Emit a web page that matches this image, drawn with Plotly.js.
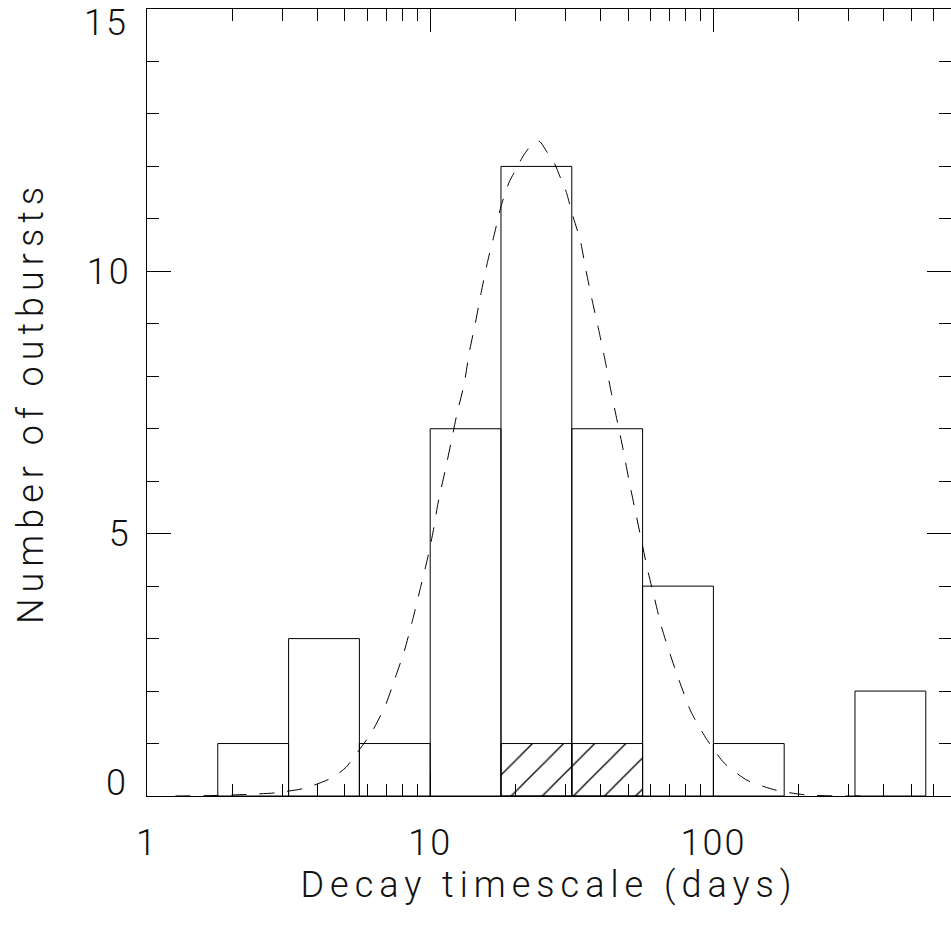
<!DOCTYPE html>
<html>
<head>
<meta charset="utf-8">
<script src="https://cdn.plot.ly/plotly-3.0.1.min.js"></script>
<style>
html, body { margin: 0; padding: 0; background: #fff; overflow: hidden; }
#chart { width: 951px; height: 926px; }
.xtitle, .ytitle { letter-spacing: 6px; }
.xtick text, .ytick text, .annotation-text { letter-spacing: 2px; }
</style>
</head>
<body>
<div id="chart"></div>
<script>
// Histogram bin edges (days), log-spaced by 0.25 dex
const binEdges = [1.778, 3.162, 5.623, 10, 17.78, 31.62, 56.23, 100, 177.8, 316.2, 562.3];
// Number of outbursts in each bin
const counts = [1, 3, 1, 7, 12, 7, 4, 1, 0, 2];
// Hatched subset in each bin
const hatchedCounts = [0, 0, 0, 0, 1, 1, 0, 0, 0, 0];

// Dashed log-normal fit curve
const fitX = [1.26, 1.77, 2.24, 2.84, 3.62, 4.51, 5.05, 5.39, 6.19, 6.94, 7.52, 8.09, 8.71, 9.22, 9.76,
  10.25, 10.67, 11.29, 11.86, 12.45, 13.18, 13.73, 14.42, 15.14, 15.89, 16.83, 17.81, 19.00, 20.12,
  21.30, 22.73, 24.26, 25.88, 27.40, 29.00, 30.21, 31.71, 33.85, 35.54, 37.31, 39.49, 41.47, 43.55,
  45.73, 48.02, 50.41, 52.92, 55.57, 58.34, 61.75, 65.36, 70.36, 76.29, 83.44, 94.24, 109.1, 131.5,
  166.4, 212.4, 280.1, 329.5];
const fitY = [0.0, 0.01, 0.03, 0.06, 0.15, 0.35, 0.55, 0.75, 1.2, 1.72, 2.25, 2.75, 3.4, 3.95, 4.5,
  5.05, 5.6, 6.2, 6.75, 7.3, 7.85, 8.45, 9.0, 9.6, 10.15, 10.7, 11.25, 11.7, 11.95,
  12.2, 12.4, 12.48, 12.27, 12.07, 11.75, 11.52, 11.1, 10.6, 10.0, 9.45, 8.85, 8.3, 7.7,
  7.15, 6.6, 6.0, 5.45, 4.9, 4.35, 3.8, 3.25, 2.7, 2.15, 1.6, 1.1, 0.63, 0.3,
  0.11, 0.02, 0.0, 0.0];

const xTickVals = [1, 10, 100, 1000];
const xTickText = ['1', '10', '100', '1000'];
const yTickVals = [0, 5, 10, 15];
const yTickText = ['0', '5', '10', '15'];

function boxes(vals) {
  const xs = [], ys = [];
  for (let i = 0; i < vals.length; i++) {
    if (vals[i] <= 0) continue;
    const l = binEdges[i], r = binEdges[i + 1], h = vals[i];
    xs.push(l, l, r, r, l, null);
    ys.push(0, h, h, 0, 0, null);
  }
  return {xs, ys};
}

const allBoxes = boxes(counts);
const hatchBoxes = boxes(hatchedCounts);

const FONT = {family: 'Roboto, "DejaVu Sans", sans-serif', size: 36, color: '#111', weight: 300};

// End labels of the y axis are nudged inward (as in the original), drawn as annotations
const lastY = yTickVals.length - 1;
const yAxisText = yTickText.map((t, i) => (i === 0 || i === lastY) ? '' : t);
const endLabels = [0, lastY].map(i => ({
  xref: 'paper', yref: 'y', x: 0, y: yTickVals[i],
  text: yTickText[i], showarrow: false,
  xanchor: 'right', yanchor: 'middle',
  xshift: -17, yshift: i === 0 ? 13 : -14,
  font: FONT
}));

const traces = [
  {
    type: 'scatter', mode: 'lines',
    x: hatchBoxes.xs, y: hatchBoxes.ys,
    fill: 'toself', fillcolor: 'rgba(0,0,0,0)',
    fillpattern: {shape: '/', size: 22, solidity: 0.06, fgcolor: '#000', bgcolor: 'rgba(0,0,0,0)', fgopacity: 1},
    line: {color: '#000', width: 1},
    hoverinfo: 'skip', showlegend: false
  },
  {
    type: 'scatter', mode: 'lines',
    x: allBoxes.xs, y: allBoxes.ys,
    line: {color: '#000', width: 1},
    hoverinfo: 'skip', showlegend: false
  },
  {
    type: 'scatter', mode: 'lines',
    x: fitX, y: fitY,
    line: {color: '#000', width: 1, dash: '15px,13px', shape: 'spline', smoothing: 0.6},
    hoverinfo: 'skip', showlegend: false
  }
];

const layout = {
  width: 951, height: 926,
  paper_bgcolor: '#fff', plot_bgcolor: '#fff',
  margin: {l: 147, r: 0, t: 9, b: 130, pad: 0},
  showlegend: false,
  font: FONT,
  annotations: endLabels,
  xaxis: {
    type: 'log',
    range: [0, 2.839],
    showgrid: false, zeroline: false,
    showline: true, linecolor: '#000', linewidth: 1, mirror: 'allticks',
    ticks: 'inside', ticklen: 23, tickwidth: 1, tickcolor: '#000',
    tickvals: xTickVals, ticktext: xTickText,
    tickfont: FONT,
    ticklabelstandoff: 15,
    minor: {ticks: 'inside', ticklen: 12, tickwidth: 1, tickcolor: '#000', dtick: 'D1', showgrid: false},
    title: {text: 'Decay timescale (days)', font: FONT, standoff: 2},
    automargin: false
  },
  yaxis: {
    range: [0, 15.0005],
    showgrid: false, zeroline: false,
    showline: true, linecolor: '#000', linewidth: 1, mirror: 'allticks',
    ticks: 'inside', ticklen: 24, tickwidth: 1, tickcolor: '#000',
    tickvals: yTickVals, ticktext: yAxisText,
    tickfont: FONT,
    ticklabelstandoff: 8,
    minor: {ticks: 'inside', ticklen: 12, tickwidth: 1, tickcolor: '#000', dtick: 1, showgrid: false},
    title: {text: 'Number of outbursts', font: FONT, standoff: 32},
    automargin: false
  }
};

Plotly.newPlot('chart', traces, layout, {displayModeBar: false, staticPlot: true});
</script>
</body>
</html>
